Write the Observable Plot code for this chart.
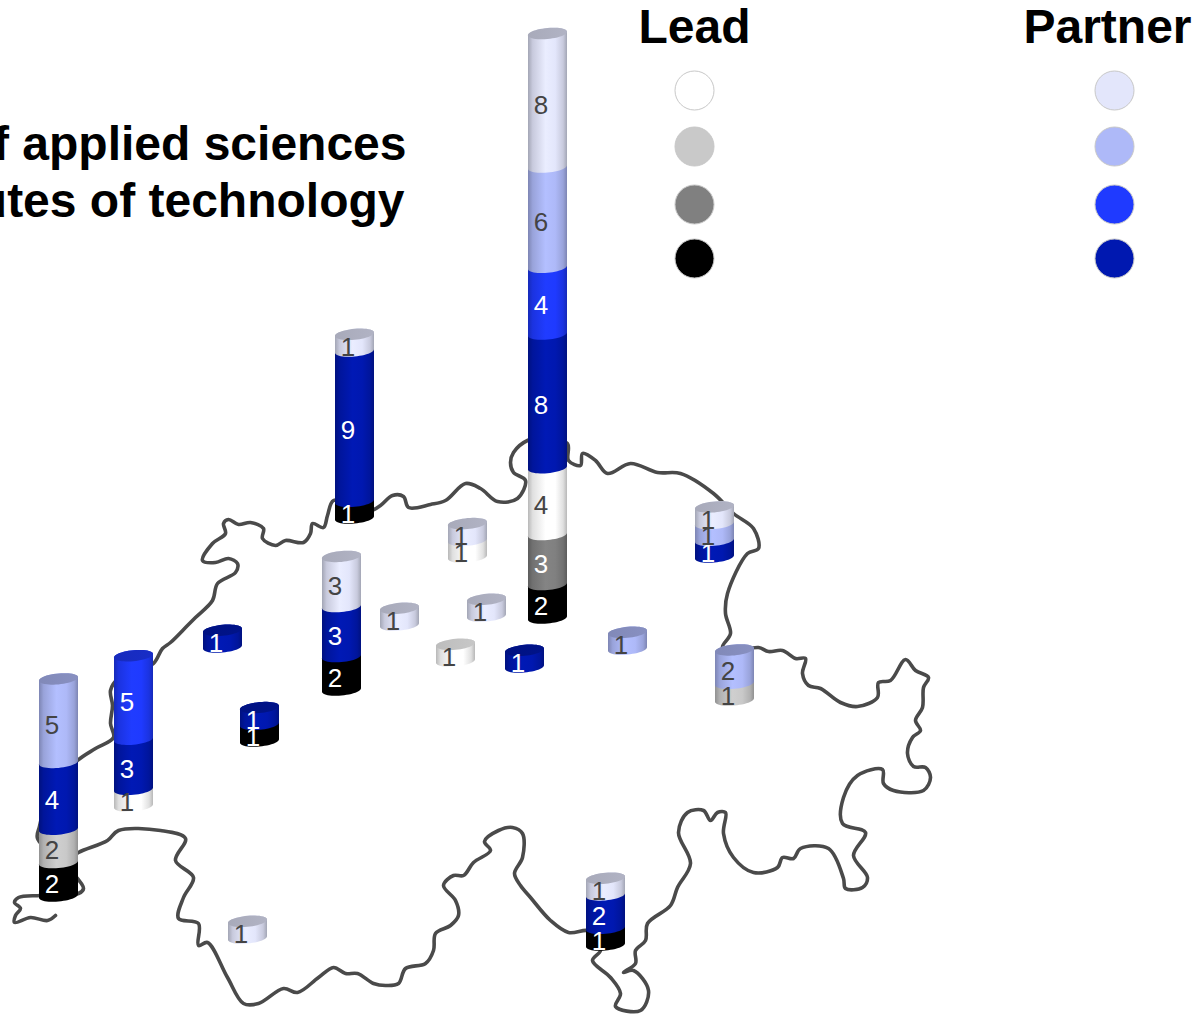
<!DOCTYPE html>
<html>
<head>
<meta charset="utf-8">
<script src="https://cdn.jsdelivr.net/npm/d3@7"></script>
<script src="https://cdn.jsdelivr.net/npm/@observablehq/plot@0.6"></script>
<style>
html,body{margin:0;padding:0;background:#fff}
svg{display:block}
.border-line{filter:blur(.55px)}
</style>
</head>
<body>
<div id="chart"></div>
<script>
// Categories (bottom of the stack to top)
const categories = ["L4","L3","L2","L1","P4","P3","P2","P1"];
const categoryColors = ["#000000","#808080","#c9c9c9","#ffffff","#0018b0","#1f3aff","#aeb9f8","#e3e6fb"];
const legendLead = ["L1","L2","L3","L4"];
const legendPartner = ["P1","P2","P3","P4"];
const legendY = [90,146,204,258];

// Sites on the map, in map units
const siteX = [547,354,341,467,714,399,486,455,524,627,734,222,259,133,58,605,247];
const siteY = [623,523,695,562,562,630,621,666,672,654,705,652,746,811,901,950,943];
// Stacks: [category, count] from bottom to top
const siteStacks = [
  [["L4",2],["L3",3],["L1",4],["P4",8],["P3",4],["P2",6],["P1",8]],
  [["L4",1],["P4",9],["P1",1]],
  [["L4",2],["P4",3],["P1",3]],
  [["L1",1],["P1",1]],
  [["P4",1],["P2",1],["P1",1]],
  [["P1",1]],
  [["P1",1]],
  [["L1",1]],
  [["P4",1]],
  [["P2",1]],
  [["L2",1],["P2",2]],
  [["P4",1]],
  [["L4",1],["P4",1]],
  [["L1",1],["P4",3],["P3",5]],
  [["L4",2],["L2",2],["P4",4],["P2",5]],
  [["L4",1],["P4",2],["P1",1]],
  [["P1",1]]
];

// Swiss border
const border = [[55,915],[47,920],[30,917],[14,922],[15,915],[20,908],[14,902],[18,897],[40,895],[78,893],[83,888],[70,870],[37,838],[39,826],[50,790],[77,760],[95,748],[113,737],[110,723],[112,705],[110,690],[118,678],[135,672],[153,663],[162,648],[170,642],[187,625],[195,617],[212,600],[217,583],[235,572],[237,563],[228,558],[215,562],[202,560],[212,543],[225,533],[223,523],[228,519],[238,524],[250,522],[263,528],[262,538],[275,545],[285,540],[303,542],[310,533],[312,523],[323,527],[327,515],[333,500],[354,505],[370,510],[380,505],[392,495],[403,496],[408,507],[430,504],[445,500],[465,483],[480,488],[497,501],[517,498],[525,480],[513,472],[510,462],[513,452],[527,440],[547,437],[567,443],[568,460],[580,465],[582,453],[595,460],[607,473],[630,463],[657,472],[680,473],[713,493],[733,513],[753,528],[758,548],[747,553],[727,593],[725,613],[730,633],[722,647],[735,650],[758,647],[768,651],[782,650],[795,658],[805,658],[802,673],[808,685],[820,688],[840,702],[857,706],[877,697],[878,682],[890,680],[905,659],[915,670],[928,677],[923,687],[922,707],[915,720],[920,730],[912,737],[907,753],[913,766],[925,767],[930,777],[923,790],[893,790],[883,783],[882,769],[857,775],[843,797],[842,823],[865,832],[853,855],[867,877],[862,887],[845,888],[843,878],[828,848],[800,848],[793,858],[782,857],[777,867],[753,872],[733,857],[723,833],[725,812],[717,812],[710,820],[703,810],[687,812],[678,832],[690,863],[677,887],[670,905],[647,923],[645,940],[635,950],[635,963],[623,972],[633,970],[648,990],[640,1010],[615,1006],[620,993],[610,977],[592,960],[600,950],[595,935],[587,930],[568,932],[550,920],[530,897],[520,885],[514,873],[522,857],[522,833],[512,827],[498,830],[484,841],[490,850],[473,862],[463,875],[453,875],[443,885],[455,900],[458,915],[450,925],[435,933],[433,950],[425,963],[405,968],[398,983],[385,985],[373,983],[357,973],[345,973],[333,967],[318,977],[297,992],[283,988],[258,1003],[243,1003],[227,977],[207,942],[198,945],[198,923],[178,918],[183,897],[193,877],[175,860],[185,838],[160,830],[118,830],[107,840],[78,852],[70,858]];

const titleLines = ["of applied sciences","institutes of technology"];
const titleX = [406,404];
const titleY = [144,201];
const legendTitles = ["Lead","Partner"];
const legendTitleX = [694,1107];

const unit = 16.7, radius = 19.5, ry = 5.5, tilt = 0.09;
const darkLabels = new Set(["L4","L3","P4","P3"]);

// Sites far back are drawn first
const order = d3.range(siteX.length).sort((a,b)=>siteY[a]-siteY[b]);
const outline = [], caps = [], labels = [];
const ell = (cx,cy,t)=>[cx+radius*Math.cos(t), cy+ry*Math.sin(t)-tilt*radius*Math.cos(t)];
for (const s of order) {
  let acc = 0, last;
  siteStacks[s].forEach(([cat,n],k)=>{
    const cx = siteX[s];
    const yb = siteY[s]-ry-acc*unit, yt = siteY[s]-ry-(acc+n)*unit;
    const z = `${s}-${k}`;
    for (let i=0;i<=24;i++){const [x,y]=ell(cx,yb,Math.PI*i/24);outline.push({x,y,z,fill:`url(#g-${cat})`});}
    for (let i=0;i<=24;i++){const [x,y]=ell(cx,yt,Math.PI+Math.PI*i/24);outline.push({x,y,z,fill:`url(#g-${cat})`});}
    labels.push({x:cx-6.5,y:(yb+yt)/2+5,text:String(n),cat});
    acc += n; last = {cx,yt,cat,z:`${s}-cap`};
  });
  for (let i=0;i<=48;i++){const [x,y]=ell(last.cx,last.yt,2*Math.PI*i/48);caps.push({x,y,z:last.z,fill:`url(#c-${last.cat})`});}
}
const paint = [...outline,...caps];

function shade(hex,k){const c=d3.rgb(hex);return d3.rgb(c.r*k,c.g*k,c.b*k).formatHex();}
const defs = () => {
  const d = d3.create("svg:defs");
  categories.forEach((cat,i)=>{
    const base = categoryColors[i];
    const g = d.append("linearGradient").attr("id",`g-${cat}`).attr("x1",0).attr("x2",1).attr("y1",0).attr("y2",0);
    [[0,.72],[.12,.88],[.45,1.03],[.7,1],[.9,.88],[1,.72]].forEach(([o,k])=>g.append("stop").attr("offset",o).attr("stop-color",shade(base,k)));
    d.append("linearGradient").attr("id",`c-${cat}`).call(s=>{
      s.append("stop").attr("offset",0).attr("stop-color",shade(base,.74));
      s.append("stop").attr("offset",1).attr("stop-color",shade(base,.78));
    });
  });
  return d.node();
};

const legendDots = [
  ...legendLead.map((c,i)=>({x:legendTitleX[0],y:legendY[i],c})),
  ...legendPartner.map((c,i)=>({x:1114,y:legendY[i],c}))
];

const plot = Plot.plot({
  width:1200,height:1014,margin:0,
  x:{domain:[0,1200],range:[0,1200],axis:null},
  y:{domain:[0,1014],range:[0,1014],axis:null},
  color:{domain:categories,range:categoryColors},
  marks:[
    defs,
    Plot.line(border,{x:d=>d[0],y:d=>d[1],stroke:"#4a4a4a",strokeWidth:3.6,curve:"catmull-rom",className:"border-line"}),
    Plot.line(paint,{x:"x",y:"y",z:"z",fill:{value:"fill",scale:null},stroke:"none"}),
    Plot.text(labels,{x:"x",y:"y",text:"text",fill:d=>darkLabels.has(d.cat)?"#ffffff":"#444444",fontSize:26,fontFamily:"Liberation Sans",textAnchor:"middle",lineAnchor:"middle"}),
    Plot.dot(legendDots,{x:"x",y:"y",r:19.5,fill:"c",stroke:"#c8c8c8",strokeWidth:1}),
    Plot.text(legendTitles,{x:(d,i)=>legendTitleX[i],y:()=>27,text:d=>d,fontSize:48,fontWeight:700,fontFamily:"Liberation Sans",fill:"#000",lineAnchor:"middle"}),
    Plot.text(titleLines,{x:(d,i)=>titleX[i],y:(d,i)=>titleY[i],text:d=>d,fontSize:48,fontWeight:700,fontFamily:"Liberation Sans",fill:"#000",textAnchor:"end",lineAnchor:"middle"})
  ]
});
document.getElementById("chart").append(plot);
</script>
</body>
</html>
